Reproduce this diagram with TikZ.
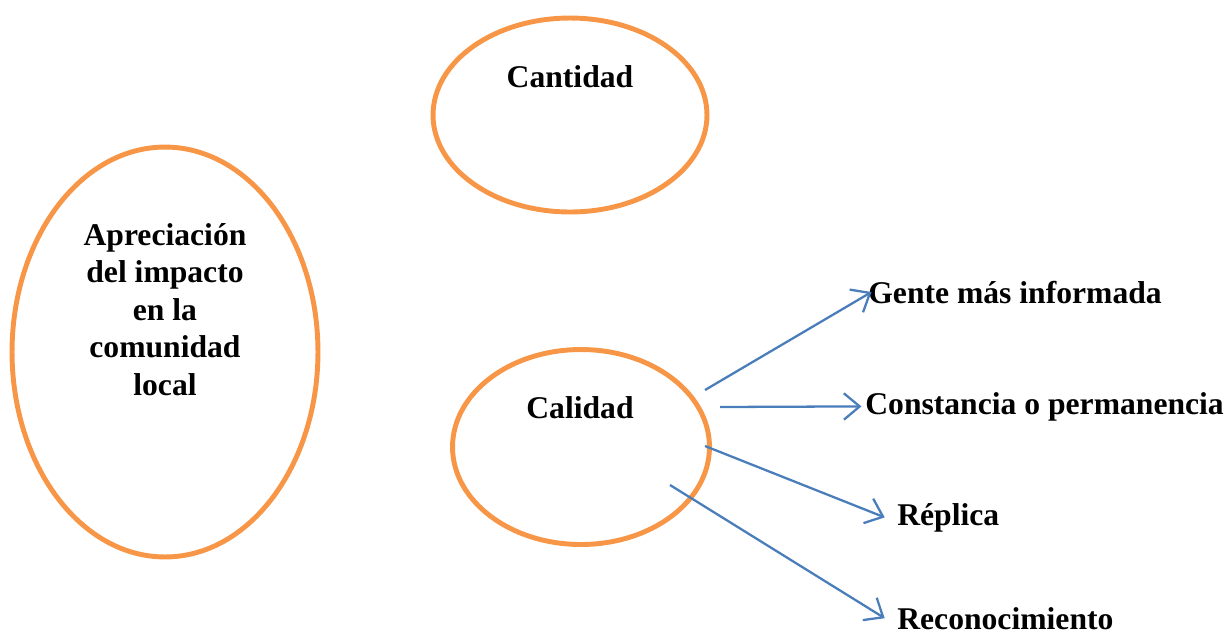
\documentclass[tikz,border=0pt]{standalone}
\usepackage{fontspec}
\setmainfont{Liberation Serif}
\usetikzlibrary{shapes.geometric,arrows.meta}
\definecolor{naranja}{RGB}{247,150,70}
\definecolor{azul}{RGB}{74,126,187}
\tikzset{
	burbuja/.style={ellipse,draw=naranja,line width=2.8pt,inner sep=0pt},
	rotulo/.style={font=\fontsize{18}{21.3}\selectfont\bfseries,inner sep=0pt},
	flecha/.style={draw=azul,line width=1.3pt,-{Straight Barb[length=9pt,width=15pt]}}
}

\begin{document}
\begin{tikzpicture}[x=0.02cm,y=-0.02cm]
	\useasboundingbox (0,0) rectangle (1230,637);
	\node[burbuja,minimum width=6.12cm,minimum height=8.2cm] (apreciacion) at (165,352) {};
	\node[burbuja,minimum width=5.48cm,minimum height=3.88cm] (cantidad) at (570,115) {};
	\node[burbuja,minimum width=5.14cm,minimum height=3.9cm] (calidad) at (581,447) {};
	\node[rotulo,anchor=base,align=center] (apreciaciontxt) at (165,395) {Apreciación\\del impacto\\en la\\comunidad\\local};
	\node[rotulo,anchor=base] (cantidadtxt) at (570,87) {Cantidad};
	\node[rotulo,anchor=base] (calidadtxt) at (580,418) {Calidad};
	\node[rotulo,anchor=base west] (gente) at (868,303) {Gente más informada};
	\node[rotulo,anchor=base west] (constancia) at (865,414) {Constancia o permanencia};
	\node[rotulo,anchor=base west] (replica) at (897,525) {Réplica};
	\node[rotulo,anchor=base west] (reconoc) at (897,629) {Reconocimiento};
	\coordinate (s1) at (705,390);
	\coordinate (s2) at (720,407);
	\coordinate (s3) at (705,446);
	\coordinate (s4) at (670,485);
	\draw[flecha] (s1) -- ([xshift=2pt]gente.west);
	\draw[flecha] (s2) -- ([xshift=-2pt]constancia.west);
	\draw[flecha] (s3) -- ([xshift=-7pt]replica.west);
	\draw[flecha] (s4) -- ([xshift=-7pt]reconoc.west);
\end{tikzpicture}
\end{document}
